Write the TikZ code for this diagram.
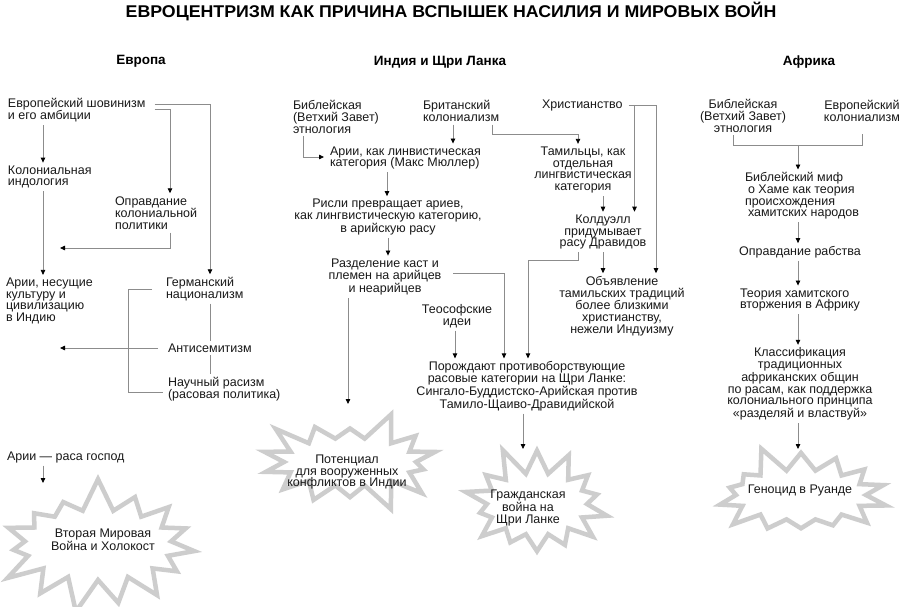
\documentclass[tikz,border=0pt]{standalone}
\usepackage{fontspec}
\setmainfont{Liberation Sans}
\usetikzlibrary{arrows.meta,shapes.symbols,calc}
\definecolor{burstgray}{HTML}{CDCDCD}
\definecolor{linegray}{HTML}{8C8C8C}
\begin{document}
\begin{tikzpicture}[x=1pt,y=-1pt,
  txt/.style={inner xsep=0pt, inner ysep=3pt, outer sep=0pt, font=\fontsize{12.5}{11.7}\selectfont, text=black!90},
  hdr/.style={inner sep=0pt, font=\fontsize{13.5}{16}\selectfont\bfseries},
  ln/.style={draw=linegray, line width=0.8pt},
  ar/.style={ln, -{Triangle[width=4.5pt,length=5pt,color=black]}},
  burst/.style={starburst, draw=burstgray, line width=4.5pt, fill=white, line join=miter, inner sep=0pt}
]
\useasboundingbox (0,0) rectangle (900,607);
\fill[white] (0,0) rectangle (900,607);

% title and headers
\node[inner sep=0pt, font=\fontsize{17}{20}\selectfont\bfseries] (title) at (451,12) {\scalebox{1.045}[1]{ЕВРОЦЕНТРИЗМ КАК ПРИЧИНА ВСПЫШЕК НАСИЛИЯ И МИРОВЫХ ВОЙН}};
\node[hdr] (h1) at (141,61) {Европа};
\node[hdr] (h2) at (440,62) {Индия и Щри Ланка};
\node[hdr] (h3) at (809,62) {Африка};

% bursts
\node[burst, starburst points=15, starburst point height=34pt, random starburst=7, minimum width=215pt, minimum height=138pt] (b1) at (98,545) {};
\node[burst, starburst points=14, starburst point height=30pt, random starburst=3, minimum width=192pt, minimum height=108pt] (b2) at (350,462) {};
\node[burst, starburst points=14, starburst point height=30pt, random starburst=11, minimum width=160pt, minimum height=122pt] (b3) at (537,504) {};
\node[burst, starburst points=14, starburst point height=28pt, random starburst=5, minimum width=186pt, minimum height=106pt] (b4) at (801,495) {};

% Europe
\node[txt,anchor=west,align=left] (e1) at (8,110) {Европейский шовинизм\\и его амбиции};
\node[txt,anchor=west,align=left] (e2) at (8,177) {Колониальная\\индология};
\node[txt,anchor=west,align=left] (e3) at (115,213) {Оправдание\\колониальной\\политики};
\node[txt,anchor=west,align=left] (e4) at (6,301) {Арии, несущие\\культуру и\\цивилизацию\\в Индию};
\node[txt,anchor=west,align=left] (e5) at (166,289) {Германский\\национализм};
\node[txt,anchor=west,align=left] (e6) at (168,348) {Антисемитизм};
\node[txt,anchor=west,align=left] (e7) at (168,389) {Научный расизм\\(расовая политика)};
\node[txt,anchor=west,align=left] (e8) at (7,457) {Арии — раса господ};
\node[txt,align=center] (b1t) at (103,540) {Вторая Мировая\\Война и Холокост};

\coordinate (e3t) at (60,248);
\coordinate (e6t) at (60,348);
\coordinate (b1a) at (43,483);

\draw[ar] ([xshift=35pt]e1.south west) -- ([xshift=35pt]e2.north west);
\draw[ar] ([xshift=9pt,yshift=6pt]e1.east) -| ([xshift=44pt]e5.north west);
\draw[ar] ([xshift=9pt,yshift=1pt]e1.east) -| ([xshift=55pt]e3.north west);
\draw[ar] ([xshift=35pt]e2.south west) -- ([xshift=37pt]e4.north west);
\draw[ar] ([xshift=55pt]e3.south west) |- (e3t);
\draw[ln] ([xshift=44pt]e5.south west) -- ([xshift=42pt]e6.north west);
\draw[ln] ([xshift=42pt]e6.south west) -- ([xshift=42pt]e7.north west);
\draw[ar] ([xshift=-10pt]e6.west) -- (e6t);
\draw[ln] ([xshift=-14pt]e5.west) -- ++(-24,0) |- ([xshift=-5pt,yshift=-3pt]e7.west);
\draw[ar] ([xshift=36pt]e8.south west) -- (b1a);

% India and Sri Lanka
\node[txt,anchor=west,align=left] (i1) at (293,117) {Библейская\\(Ветхий Завет)\\этнология};
\node[txt,anchor=west,align=left] (i2) at (423,111) {Британский\\колониализм};
\node[txt,anchor=west,align=left] (i3) at (542,105) {Христианство};
\node[txt,anchor=west,align=left] (i4) at (330,158) {Арии, как линвистическая\\категория (Макс Мюллер)};
\node[txt,align=center] (i5) at (583,170) {Тамильцы, как\\отдельная\\лингвистическая\\категория};
\node[txt,align=center] (i6) at (388,217) {Рисли превращает ариев,\\как лингвистическую категорию,\\в арийскую расу};
\node[txt,align=center] (i7) at (603,232) {Колдуэлл\\придумывает\\расу Дравидов};
\node[txt,align=center] (i8) at (385,277) {Разделение каст и\\племен на арийцев\\и неарийцев};
\node[txt,align=center] (i9) at (622,306) {Объявление\\тамильских традиций\\более близкими\\христианству,\\нежели Индуизму};
\node[txt,align=center] (i10) at (457,316) {Теософские\\идеи};
\node[txt,align=center] (i11) at (527,386) {Порождают противоборствующие\\расовые категории на Щри Ланке:\\Сингало-Буддистско-Арийская против\\Тамило-Щаиво-Дравидийской};
\node[txt,align=center] (b2t) at (347,472) {Потенциал\\для вооруженных\\конфликтов в Индии};
\node[txt,align=center] (b3t) at (528,508) {Гражданская\\война на\\Щри Ланке};

\coordinate (b2a) at (348,404);
\coordinate (b3a) at (523,449);

\draw[ar] ([xshift=10pt]i1.south west) |- ([xshift=-6pt,yshift=1pt]i4.west);
\draw[ar] ([xshift=30pt]i2.south west) -- ([xshift=30pt]i2.south west |- i4.north);
\draw[ar] ([xshift=69pt]i2.south west) -- ++(0,10) -| ([xshift=-5pt]i5.north);
\draw[ar] ([xshift=6pt]i3.east) -| ([xshift=34pt]i9.north);
\draw[ar] ([xshift=12pt]i3.east) -- ([xshift=12pt]i3.east |- i7.north);
\draw[ar] ([xshift=20pt]i5.south) -- ([xshift=20pt]i5.south |- i7.north);
\draw[ar] (i7.south) -- (i7.south |- i9.north);
\draw[ar] ([xshift=-25pt]i7.south) -- ++(0,8) -| ([xshift=1pt]i11.north);
\draw[ar] ([xshift=57pt]i4.south west) -- ([xshift=57pt]i4.south west |- i6.north);
\draw[ar] (i6.south) -- (i6.south |- i8.north);
\draw[ar] ([xshift=12pt,yshift=4pt]i8.east) -| ([xshift=-23pt]i11.north);
\draw[ar] ([xshift=-37pt]i8.south) -- (b2a);
\draw[ar] ([xshift=-2pt]i10.south) -- ([xshift=-2pt]i10.south |- i11.north);
\draw[ar] ([xshift=-4pt]i11.south) -- (b3a);

% Africa
\node[txt,align=center] (a1) at (743,116) {Библейская\\(Ветхий Завет)\\этнология};
\node[txt,align=center] (a2) at (862,111) {Европейский\\колониализм};
\node[txt,anchor=west,align=left] (a3) at (745,196) {Библейский миф\\\hspace*{3pt}о Хаме как теория\\происхождения\\\hspace*{3pt}хамитских народов};
\node[txt,align=center] (a4) at (800,252) {Оправдание рабства};
\node[txt,anchor=west,align=left] (a5) at (740,300) {Теория хамитского\\вторжения в Африку};
\node[txt,align=center] (a6) at (800,384) {Классификация\\традиционных\\африканских общин\\по расам, как поддержка\\колониального принципа\\«разделяй и властвуй»};
\node[txt,align=center] (b4t) at (800,490) {Геноцид в Руанде};

\coordinate (aj) at (798,145);
\coordinate (b4a) at (798,449);

\draw[ln] ([xshift=-10pt]a1.south) -- ++(0,10) -| ([yshift=-9pt]a2.south);
\draw[ar] (aj) -- (aj |- a3.north);
\draw[ar] (aj |- a3.south) -- (aj |- a4.north);
\draw[ar] (aj |- a4.south) -- (aj |- a5.north);
\draw[ar] (aj |- a5.south) -- (aj |- a6.north);
\draw[ar] (aj |- a6.south) -- (b4a);
\end{tikzpicture}
\end{document}
